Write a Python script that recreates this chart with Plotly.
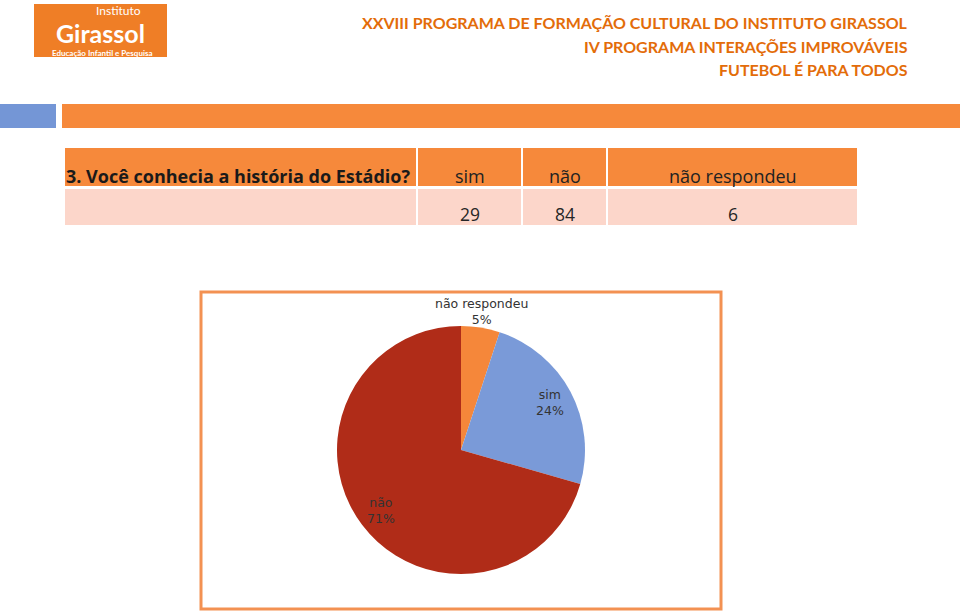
import math
import plotly.graph_objects as go

# ---- data ----
question = "3. Você conhecia a história do Estádio?"
categories = ["sim", "não", "não respondeu"]
counts = [29, 84, 6]
pie_order = ["não respondeu", "sim", "não"]
header_lines = [
    "XXVIII PROGRAMA DE FORMAÇÃO CULTURAL DO INSTITUTO GIRASSOL",
    "IV PROGRAMA INTERAÇÕES IMPROVÁVEIS",
    "FUTEBOL É PARA TODOS",
]
slice_colors = {"não respondeu": "#F5873A", "sim": "#7A9AD8", "não": "#B02C18"}

W, H = 960, 615
def px(x): return x / W
def py(y): return 1 - y / H

ORANGE = "#F6893B"
PEACH = "#FCD6CA"
TXT = "#262626"

shapes = []
ann = []

def rect(x0, y0, x1, y1, fill, line=None, lw=0):
    shapes.append(dict(type="rect", xref="paper", yref="paper",
                       x0=px(x0), x1=px(x1), y0=py(y1), y1=py(y0),
                       fillcolor=fill, line=dict(color=line or fill, width=lw), layer="below"))

def text(x, y, s, size, color, family="Lato", xanchor="center", yanchor="middle", bold=False):
    if bold:
        s = "<b>" + s + "</b>"
    ann.append(dict(xref="paper", yref="paper", x=px(x), y=py(y), text=s, showarrow=False,
                    xanchor=xanchor, yanchor=yanchor,
                    font=dict(size=size, color=color, family=family)))

# logo
rect(34, 4, 167, 57, "#EF7E26")
text(118, 10.5, "Instituto", 12, "white", family="Lato")
text(100, 33, "Girassol", 25, "white", family="Lato", bold=True)
text(102, 53, "Educação Infantil e Pesquisa", 8, "white", family="Lato", bold=True)

# header lines
for i, line in enumerate(header_lines):
    text(910, 23 + i * 23, line, 16, "#E36C09", family="Lato", xanchor="right", bold=True)

# bars
rect(0, 104, 56, 128, "#7496D6")
rect(62, 104, 960, 128, ORANGE)

# table
col_edges = [65, 417, 522, 607, 858]
rect(col_edges[0], 148, col_edges[1] - 1, 186, ORANGE)
rect(col_edges[0], 189, col_edges[1] - 1, 225, PEACH)
text(64, 176, question, 18, "#1a1a1a", family="Open Sans", xanchor="left", bold=True)
for i, cat in enumerate(categories):
    x0, x1 = col_edges[i + 1] + 1, col_edges[i + 2] - 1
    rect(x0, 148, x1, 186, ORANGE)
    rect(x0, 189, x1, 225, PEACH)
    text((x0 + x1) / 2, 176, cat, 18, "#222222", family="Open Sans")
    text((x0 + x1) / 2, 214, str(counts[i]), 17.5, TXT, family="Open Sans")

# chart box
shapes.append(dict(type="rect", xref="paper", yref="paper",
                   x0=px(201), x1=px(721), y0=py(609), y1=py(292),
                   fillcolor="rgba(0,0,0,0)", line=dict(color="#F39152", width=3)))

# pie
cx, cy, R = 461, 450, 124
vals = [counts[categories.index(c)] for c in pie_order]
total = sum(vals)
fig = go.Figure(go.Pie(
    labels=pie_order, values=vals, sort=False, direction="clockwise", rotation=0,
    marker=dict(colors=[slice_colors[c] for c in pie_order], line=dict(width=0)),
    textinfo="none", hoverinfo="label+percent", showlegend=False,
    domain=dict(x=[px(cx - R), px(cx + R)], y=[py(cy + R), py(cy - R)]),
))

# labels (Excel-like placement)
cum = 0
for c, v in zip(pie_order, vals):
    mid = (cum + v / 2) / total * 2 * math.pi
    cum += v
    pct = f"{round(100 * v / total)}%"
    if v / total < 0.1:
        lx, ly = 481, 311
    else:
        lx, ly = cx + 0.81 * R * math.sin(mid), cy - 0.81 * R * math.cos(mid)
    ann.append(dict(xref="paper", yref="paper", x=px(lx), y=py(ly), text=f"{c}<br>{pct}",
                    showarrow=False, xanchor="center", yanchor="middle",
                    font=dict(size=12.5, color="#333333", family="DejaVu Sans"), align="center"))

fig.update_layout(width=W, height=H, margin=dict(l=0, r=0, t=0, b=0),
                  paper_bgcolor="white", plot_bgcolor="white",
                  shapes=shapes, annotations=ann)
fig.write_html("out.html")
